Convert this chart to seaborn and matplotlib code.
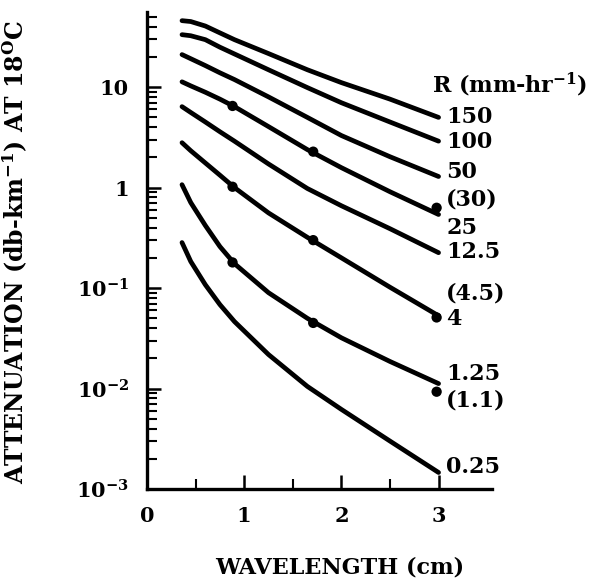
import numpy as np
import pandas as pd
import matplotlib
matplotlib.use('Agg')
import matplotlib.pyplot as plt
import matplotlib.ticker as mticker
import seaborn as sns

# values (wavelength in cm, attenuation in db/km)
wavelength = [0.36, 0.45, 0.6, 0.75, 0.9, 1.25, 1.65, 2.0, 2.5, 3.0]
att_150 = [45.9, 45.0, 40.6, 34.7, 29.7, 21.6, 14.9, 11.1, 7.6, 5.0]
att_100 = [33.3, 32.5, 29.7, 25.0, 21.4, 14.9, 9.9, 7.0, 4.5, 2.9]
att_50 = [21.1, 19.2, 16.4, 13.9, 11.9, 8.0, 5.0, 3.3, 2.03, 1.29]
att_25 = [11.3, 10.3, 8.9, 7.6, 6.4, 4.05, 2.39, 1.58, 0.91, 0.54]
att_12_5 = [6.4, 5.6, 4.5, 3.6, 2.9, 1.72, 0.98, 0.66, 0.39, 0.225]
att_4 = [2.8, 2.33, 1.76, 1.33, 1.0, 0.56, 0.32, 0.20, 0.102, 0.053]
att_1_25 = [1.07, 0.71, 0.42, 0.259, 0.175, 0.090, 0.050, 0.032, 0.0186, 0.0112]
att_0_25 = [0.284, 0.184, 0.108, 0.0685, 0.0464, 0.0218, 0.0105, 0.0062, 0.0030, 0.00146]

rates = ['150', '100', '50', '25', '12.5', '4', '1.25', '0.25']
curves = [att_150, att_100, att_50, att_25, att_12_5, att_4, att_1_25, att_0_25]

# measured points (the bracketed rates)
dot_x = [0.88, 1.71, 2.98]
dot_30 = [6.5, 2.28, 0.63]
dot_4_5 = [1.02, 0.30, 0.051]
dot_1_1 = [0.18, 0.045, 0.0093]

# right-hand labels
label_text = ['150', '100', '50', '(30)', '25', '12.5', '(4.5)', '4', '1.25', '(1.1)', '0.25']
label_y = [5.1, 2.87, 1.44, 0.76, 0.40, 0.23, 0.088, 0.049, 0.0141, 0.0076, 0.00164]

ytick_vals = [1e-3, 1e-2, 1e-1, 1, 10]
ytick_text = ['$10^{-3}$', '$10^{-2}$', '$10^{-1}$', '1', '10']
xtick_vals = [0, 1, 2, 3]

df = pd.DataFrame({
    'wavelength': np.tile(wavelength, len(rates)),
    'attenuation': np.concatenate(curves),
    'rate': np.repeat(rates, len(wavelength)),
})
dots = pd.DataFrame({
    'wavelength': dot_x * 3,
    'attenuation': dot_30 + dot_4_5 + dot_1_1,
})

sns.set_style('ticks')
plt.rcParams['font.family'] = ['DejaVu Serif']
plt.rcParams['font.weight'] = 'bold'
plt.rcParams['mathtext.fontset'] = 'dejavuserif'
plt.rcParams['mathtext.default'] = 'bf'
plt.rcParams['text.color'] = 'black'
plt.rcParams['xtick.color'] = 'black'
plt.rcParams['ytick.color'] = 'black'
plt.rcParams['axes.labelcolor'] = 'black'

fig = plt.figure(figsize=(6.06, 5.85), dpi=100)
ax = fig.add_axes([0.2426, 0.1641, 0.5693, 0.8154])

sns.lineplot(
    data=df,
    x='wavelength',
    y='attenuation',
    units='rate',
    estimator=None,
    sort=False,
    color='black',
    linewidth=3.4,
    solid_capstyle='round',
    solid_joinstyle='round',
    ax=ax
)

sns.scatterplot(
    data=dots,
    x='wavelength',
    y='attenuation',
    color='black',
    s=55,
    edgecolor='none',
    ax=ax
)

ax.set_yscale('log')
ax.set_xlim(0, 3.55)
ax.set_ylim(1e-3, 56)

ax.set_yticks(ytick_vals, labels=ytick_text)
ax.yaxis.set_minor_locator(mticker.LogLocator(base=10, subs=np.arange(2, 10)))
ax.yaxis.set_minor_formatter(mticker.NullFormatter())
ax.set_xticks(xtick_vals, labels=[str(v) for v in xtick_vals])
ax.xaxis.set_minor_locator(mticker.FixedLocator([0.5, 1.5, 2.5]))

ax.tick_params(axis='both', which='major', direction='in', length=10, width=1.8, labelsize=15, pad=13)
ax.tick_params(axis='both', which='minor', direction='in', length=7, width=1.5)
ax.tick_params(axis='x', which='major', pad=12)

for side in ['top', 'right']:
    ax.spines[side].set_visible(False)
for side in ['left', 'bottom']:
    ax.spines[side].set_linewidth(2.4)
    ax.spines[side].set_color('black')

ax.set_xlabel('WAVELENGTH (cm)', fontsize=16, fontweight='bold')
ax.xaxis.set_label_coords(0.559, -0.142)
ax.set_ylabel(r'ATTENUATION (db-km$^{-1}$) AT 18$^{\mathrm{O}}$C', fontsize=17, fontweight='bold')
ax.yaxis.set_label_coords(-0.339, 0.497)

ax.text(2.93, 10.6, r'R (mm-hr$^{-1}$)', fontsize=16, fontweight='bold', va='center', ha='left', clip_on=False)
for txt, yv in zip(label_text, label_y):
    ax.text(3.08, yv, txt, fontsize=16, fontweight='bold', va='center', ha='left', clip_on=False)

fig.savefig('out.png', dpi=100)
